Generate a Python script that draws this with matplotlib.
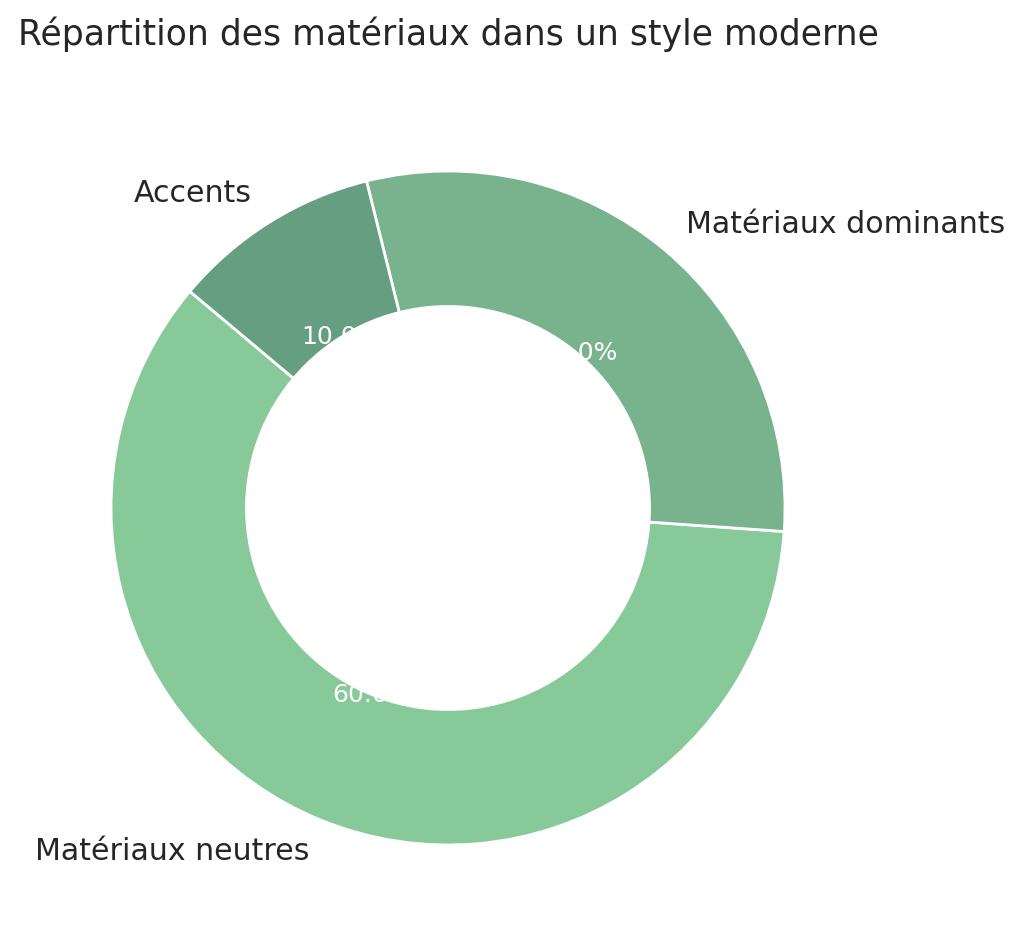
import matplotlib.pyplot as plt

# données du graphique
categories = ['Matériaux neutres', 'Matériaux dominants', 'Accents']
parts = [60, 30, 10]
couleurs = ['#88c999', '#79b38e', '#669e82']

W, H, DPI = 1024, 946, 100
fig = plt.figure(figsize=(W / DPI, H / DPI), dpi=DPI)
fig.patch.set_facecolor('white')

# centre du donut (448, 508) px, rayon 337 px -> 2.5 unités = 842.5 px
cx, cy, r = 448, 508, 337
side = 2.5 * r
ax = fig.add_axes([(cx - side / 2) / W, (H - cy - side / 2) / H, side / W, side / H])

wedges, texts, autotexts = ax.pie(
    parts, labels=categories, colors=couleurs, autopct='%1.1f%%',
    startangle=140, wedgeprops=dict(edgecolor='white', linewidth=2),
    textprops=dict(fontsize=21.6, color='#262626'))
for t in autotexts:
    t.set_color('white')
    t.set_fontsize(18)

# trou central
centre = plt.Circle((0, 0), 0.6, color='white')
ax.add_artist(centre)
ax.set_aspect('equal')
ax.set_xlim(-1.25, 1.25)
ax.set_ylim(-1.25, 1.25)
ax.axis('off')

fig.text(cx / W, 1 - 45 / H, 'Répartition des matériaux dans un style moderne',
         ha='center', va='baseline', fontsize=24.9, color='#262626')

fig.savefig('out.png', dpi=DPI)
